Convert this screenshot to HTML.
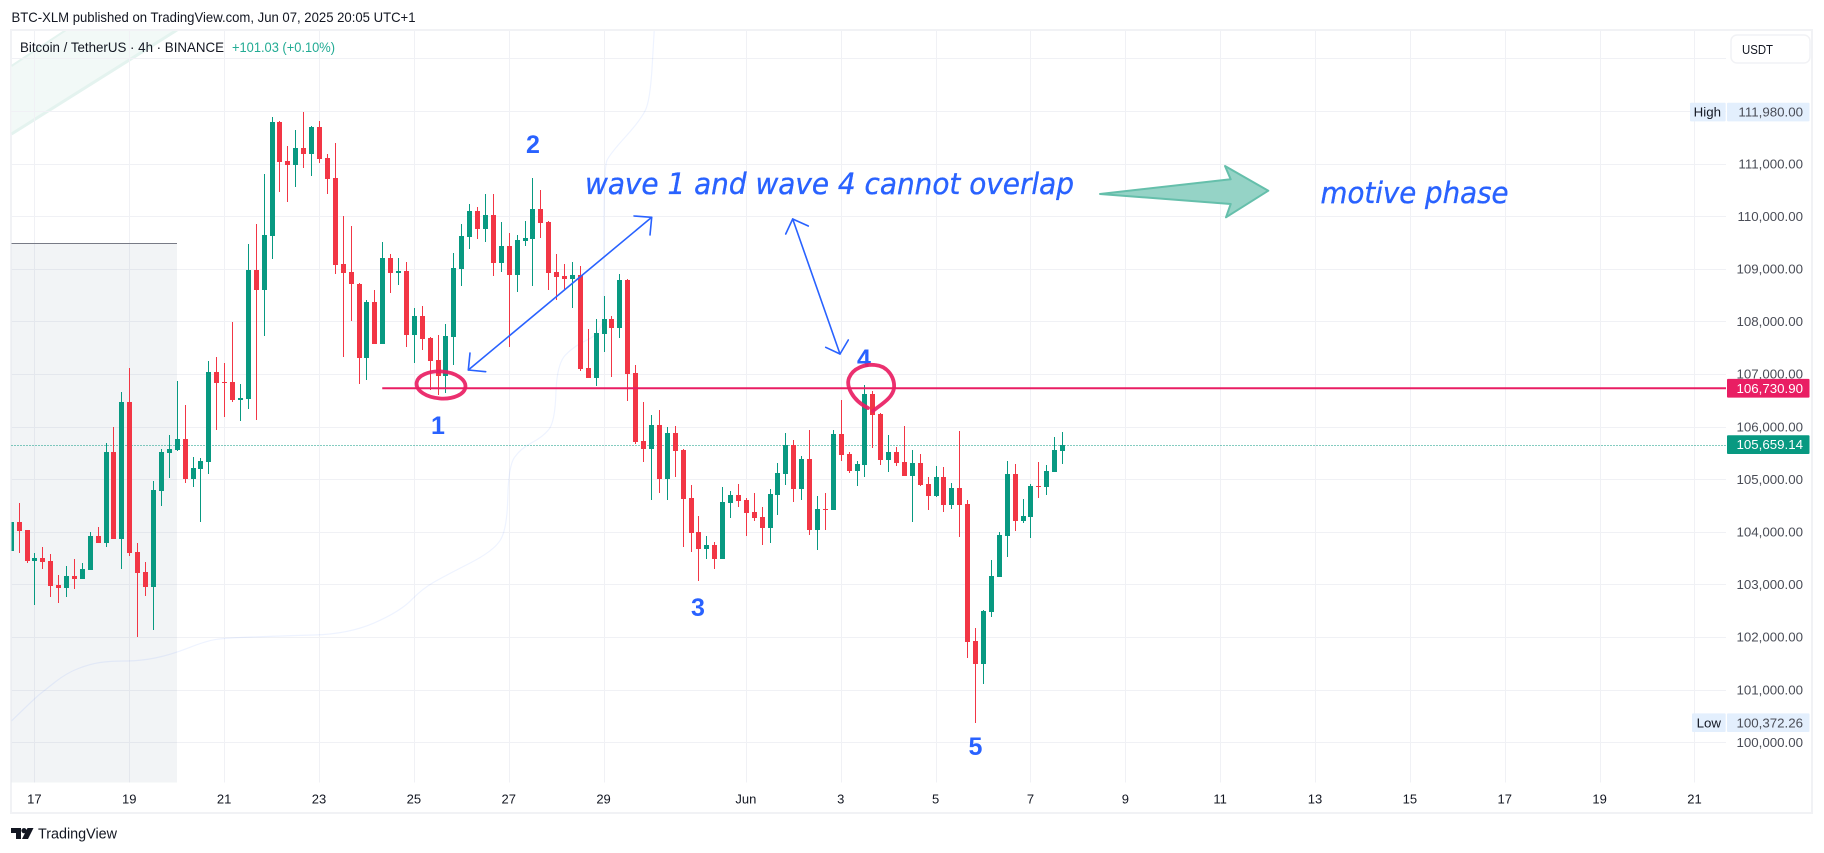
<!DOCTYPE html>
<html lang="en">
<head>
<meta charset="utf-8">
<title>BTC/USDT 4h chart</title>
<style>
html,body{margin:0;padding:0;background:#fff;width:1824px;height:853px;overflow:hidden}
svg{display:block;font-family:"Liberation Sans",sans-serif}
</style>
</head>
<body>
<svg id="chart" xmlns="http://www.w3.org/2000/svg" width="1824" height="853" viewBox="0 0 1824 853">
  <defs>
    <clipPath id="pane-clip"><rect x="11.5" y="31" width="1714.5" height="751.5"/></clipPath>
  </defs>
  <rect x="0" y="0" width="1824" height="853" fill="#ffffff"/>
  <text x="11.5" y="22" font-size="14" fill="#131722" textLength="404" lengthAdjust="spacingAndGlyphs">BTC-XLM published on TradingView.com, Jun 07, 2025 20:05 UTC+1</text>
  <rect x="11" y="30" width="1801" height="783" fill="none" stroke="#f1f2f5" stroke-width="2"/>

  <g id="pane" clip-path="url(#pane-clip)">
    <g>
      <polygon points="11.5,66 66,30 177,30 11.5,134" fill="#f2f9f7"/>
      <line x1="11.5" y1="66" x2="66" y2="30" stroke="#e4f3ef" stroke-width="2"/>
      <line x1="11.5" y1="134" x2="177" y2="30" stroke="#e4f3ef" stroke-width="3"/>
    </g>
    <g id="grid"></g>
    <rect x="11.5" y="243" width="165.5" height="540" fill="#7d91a5" fill-opacity="0.1"/>
    <line x1="11.5" y1="243.5" x2="177" y2="243.5" stroke="#787b86" stroke-width="1"/>
    <path id="envelope" fill="none" stroke="#2962ff" stroke-opacity="0.08" stroke-width="1.2"/>
    <line id="last-price-line" stroke="#089981" stroke-width="1" stroke-dasharray="1 2"/>
    <g id="candles"></g>
    <line id="level-line" stroke="#e91e63" stroke-width="2"/>
  </g>

  <g>
    <polygon points="1100,194 1230.7,179.3 1225,166 1268.3,190.7 1226,217.3 1230.7,204" fill="#95d3c6" stroke="#65bfab" stroke-width="2" stroke-linejoin="round"/>
    <g fill="none" stroke="#2962ff" stroke-width="1.6" stroke-linecap="round" stroke-linejoin="round">
      <line x1="468.3" y1="370" x2="651.7" y2="217.3"/>
      <polyline points="634,216 651.7,217.3 650,235"/>
      <polyline points="470,353 468.3,370 485.7,371.7"/>
    </g>
    <g fill="none" stroke="#2962ff" stroke-width="1.6" stroke-linecap="round" stroke-linejoin="round">
      <line x1="792.7" y1="219" x2="840" y2="354"/>
      <polyline points="785.7,234 792.7,219 808.3,226"/>
      <polyline points="825.7,347.3 840,354 848.3,340"/>
    </g>
    <g fill="#2962ff" font-size="25" font-weight="700" text-anchor="middle">
      <text x="438" y="434">1</text>
      <text x="533" y="153">2</text>
      <text x="698" y="616">3</text>
      <text x="864" y="367">4</text>
      <text x="975.5" y="755">5</text>
    </g>
    <ellipse cx="441" cy="385" rx="24.5" ry="13.5" transform="rotate(4 441 385)" fill="none" stroke="#e91e63" stroke-opacity="0.92" stroke-width="3.8"/>
    <path d="M868,408 C852,400 846,386 849,378 C853,368 865,364 875,365 C888,366 895,378 894,388 C893,398 880,405 873,411" fill="none" stroke="#e91e63" stroke-opacity="0.92" stroke-width="3.8" stroke-linecap="round"/>
    <text x="585" y="194" font-family="'DejaVu Sans',sans-serif" font-style="italic" font-size="29" fill="#2962ff" stroke="#2962ff" stroke-width="0.35" textLength="489" lengthAdjust="spacingAndGlyphs">wave 1 and wave 4 cannot overlap</text>
    <text x="1320.5" y="203" font-family="'DejaVu Sans',sans-serif" font-style="italic" font-size="29" fill="#2962ff" stroke="#2962ff" stroke-width="0.35" textLength="188" lengthAdjust="spacingAndGlyphs">motive phase</text>
  </g>

  <g>
    <text x="20" y="52" font-size="14" fill="#131722" textLength="204" lengthAdjust="spacingAndGlyphs">Bitcoin / TetherUS · 4h · BINANCE</text>
    <text x="232" y="52" font-size="14" fill="#22ab94" textLength="103" lengthAdjust="spacingAndGlyphs">+101.03 (+0.10%)</text>
  </g>

  <g id="price-axis" font-size="13.3" fill="#4a4d57" text-anchor="end"></g>
  <g id="time-axis" font-size="13" fill="#131722" text-anchor="middle"></g>

  <g id="high-marker"></g>
  <g id="low-marker"></g>
  <g id="level-tag"></g>
  <g id="last-tag"></g>

  <g>
    <rect x="1731" y="35" width="79" height="28" rx="6" fill="#ffffff" stroke="#f1f2f5" stroke-width="1.5"/>
    <text x="1742" y="54" font-size="13" fill="#131722" textLength="31" lengthAdjust="spacingAndGlyphs">USDT</text>
  </g>

  <g>
    <polygon points="11,828 21,828 21,839 16,839 16,833 11,833" fill="#131722"/>
    <circle cx="24" cy="830.6" r="2.6" fill="#131722"/>
    <polygon points="27.5,828 33.5,828 28,839 22,839" fill="#131722"/>
    <text x="38" y="838.5" font-size="14.5" fill="#131722" textLength="79" lengthAdjust="spacingAndGlyphs">TradingView</text>
  </g>
</svg>

<script>
const opens = [103640,104190,104040,103450,103500,103450,102990,102930,103160,103100,103280,103920,103790,105520,103860,106470,103620,103240,102950,104780,105500,105560,105770,105000,105200,105330,107040,106850,106850,106510,106530,108980,108600,109620,111790,111050,110970,111300,111180,111700,111110,110730,109090,108940,108710,107310,108370,107570,109210,108920,108960,107740,108100,107690,107270,106960,107710,109000,109610,110100,109760,110020,109110,109430,108880,109530,109570,110140,109890,108940,108860,108810,108880,107120,106930,107760,108050,107880,108790,107020,105730,105570,106030,105000,105880,105560,104640,104000,103680,103750,103480,104550,104700,104610,104380,104280,104070,104700,105100,105650,104820,105390,104040,104430,104410,105860,105480,105160,105270,106620,106240,105370,105520,105330,105060,105310,104910,104680,105040,104510,104830,104530,101930,101490,102480,103140,103920,105100,104210,104280,104870,104850,105140,105540];
const highs = [104190,104550,104040,103600,103710,103580,103180,103350,103480,103410,104000,104090,105690,105990,106660,107120,103790,103430,104970,105570,105840,106870,106410,105420,105400,107250,107320,107210,107990,106810,109470,109850,110800,111890,111810,111340,111640,111980,111720,111810,111180,111390,110000,109810,108730,108410,108600,109510,109280,109210,109130,108260,108290,107700,107740,107950,109300,109850,110230,110180,110420,110420,109890,109680,109640,109910,110730,110500,109910,109280,109090,109130,109050,107860,108050,108480,108100,108900,108810,107170,106470,106220,106320,105990,106010,105570,104890,104300,103920,103810,104850,104780,104910,104640,104740,104470,104820,105310,105880,105750,105440,105940,104680,104740,105940,106510,105520,105350,106790,106680,106260,105840,105610,106010,105560,105480,105040,105250,105230,104930,105920,104610,102170,102510,103470,104000,105350,105290,104630,104910,105330,105270,105800,105900];
const lows = [103640,103600,103410,102610,103290,102760,102650,102760,102910,103100,103280,103790,103710,103860,103290,103540,102000,102780,102130,104490,105020,105540,104930,104850,104190,105100,105940,106180,106470,106110,106340,106130,107720,109190,110460,110270,110560,110920,110770,111010,110420,108900,107320,108010,106810,106890,107570,107570,108540,108690,107520,107210,107460,106700,106600,106640,107170,108670,109380,109570,109510,108860,108940,107520,108560,109430,108670,109590,108600,108410,108620,108260,107060,106930,106770,107420,106940,107690,106490,105670,105330,104610,104740,104610,105040,103710,103620,103070,103480,103290,103480,104260,104470,103920,104210,103750,103790,104320,104890,104570,104610,103940,103660,104040,104410,105350,105120,104870,105040,105590,105270,105140,105250,105060,104190,104870,104420,104660,104380,104430,103900,101600,100370,101110,102380,103140,103520,104020,104170,103880,104640,104700,105140,105290];
const closes = [104190,104020,103450,103500,103430,102970,102930,103160,103100,103290,103920,103790,105520,103860,106470,103600,103220,102950,104800,105520,105570,105770,105000,105210,105350,107040,106830,106830,106510,106550,108980,108600,109640,111790,111030,110970,111300,111180,111700,111090,110710,109070,108920,108710,107310,108370,107570,109210,108920,108960,107740,108100,107670,107250,106960,107720,109020,109620,110100,109760,110020,109110,109430,108880,109550,109590,110140,109870,108920,108850,108810,108880,107100,106930,107780,108050,107880,108790,107000,105710,105570,106030,105000,105880,105540,104630,103980,103680,103750,103480,104570,104700,104590,104360,104260,104070,104720,105120,105650,104820,105390,104040,104430,104410,105860,105460,105160,105290,106620,106220,105370,105520,105310,105060,105310,104890,104680,105040,104510,104830,104510,101910,101490,102500,103160,103940,105100,104210,104300,104870,104850,105160,105560,105660];

const priceTicks = [100000,101000,102000,103000,104000,105000,106000,107000,108000,109000,110000,111000];
const priceTickLabels = ["100,000.00","101,000.00","102,000.00","103,000.00","104,000.00","105,000.00","106,000.00","107,000.00","108,000.00","109,000.00","110,000.00","111,000.00"];
const gridPrices = [100000,101000,102000,103000,104000,105000,106000,107000,108000,109000,110000,111000,112000,113000];
const timeTickDays = [0,2,4,6,8,10,12,15,17,19,21,23,25,27,29,31,33,35];
const timeTickLabels = ["17","19","21","23","25","27","29","Jun","3","5","7","9","11","13","15","17","19","21"];

const highPrice = 111980.00;
const highLabel = "111,980.00";
const lowPrice = 100372.26;
const lowLabel = "100,372.26";
const levelPrice = 106730.90;
const levelLabel = "106,730.90";
const lastPrice = 105659.14;
const lastLabel = "105,659.14";
const levelStartBar = 47;

const envelopeBars = [0.1,3.07,4.34,7.08,10.03,12.56,16.36,20.15,24.8,27.3,33.9,42.8,49.25,52.03,54.9,61.1,62.8,62.97,64.5,67.3,68.85,69.1,71.25,74.9,75,75.05,75.8,79.7,80.9,81.4];
const envelopePrices = [100405,100842,100994,101317,101488,101545,101545,101659,101931,101983,102021,102059,102486,102914,103161,103636,104055,105252,105583,105804,106089,107191,107533,107790,108465,110936,111183,111830,112210,113522];

const NS = "http://www.w3.org/2000/svg";
const PANE_LEFT = 11.5;
const PANE_RIGHT = 1726;
const PANE_BOTTOM = 782.5;
const xOfBar = function (bar) { return 10.7 + bar * 7.905; };
const xOfDay = function (day) { return xOfBar(3 + day * 6); };
const yOfPrice = function (price) { return (114111 - price) / 19.01; };

function make(tag, parent, attrs) {
  const el = document.createElementNS(NS, tag);
  for (const key in attrs) el.setAttribute(key, attrs[key]);
  parent.appendChild(el);
  return el;
}

const grid = document.getElementById("grid");
gridPrices.forEach(function (price) {
  const y = Math.round(yOfPrice(price)) + 0.5;
  const el = make("line", grid, { x1: PANE_LEFT, x2: PANE_RIGHT, y1: y, y2: y, stroke: "#f0f1f5", "stroke-width": 1 });
  
  
});
timeTickDays.forEach(function (day) {
  const x = Math.round(xOfDay(day)) + 0.5;
  const el = make("line", grid, { x1: x, x2: x, y1: 31, y2: PANE_BOTTOM, stroke: "#f0f1f5", "stroke-width": 1 });
  
  
});

const envelopeX = envelopeBars.map(xOfBar);
const envelopeY = envelopePrices.map(yOfPrice);
let envelopeD = "M" + envelopeX[0].toFixed(1) + "," + envelopeY[0].toFixed(1);
for (let i = 1; i < envelopeX.length - 1; i++) {
  const midX = (envelopeX[i] + envelopeX[i + 1]) / 2;
  const midY = (envelopeY[i] + envelopeY[i + 1]) / 2;
  envelopeD += " Q" + envelopeX[i].toFixed(1) + "," + envelopeY[i].toFixed(1) + " " + midX.toFixed(1) + "," + midY.toFixed(1);
}
envelopeD += " L" + envelopeX[envelopeX.length - 1].toFixed(1) + "," + envelopeY[envelopeY.length - 1].toFixed(1);
document.getElementById("envelope").setAttribute("d", envelopeD);

const lastLine = document.getElementById("last-price-line");
lastLine.setAttribute("x1", PANE_LEFT);
lastLine.setAttribute("x2", PANE_RIGHT);
lastLine.setAttribute("y1", Math.round(yOfPrice(lastPrice)) + 0.5);
lastLine.setAttribute("y2", Math.round(yOfPrice(lastPrice)) + 0.5);

const levelLine = document.getElementById("level-line");
levelLine.setAttribute("x1", xOfBar(levelStartBar));
levelLine.setAttribute("x2", PANE_RIGHT);
levelLine.setAttribute("y1", yOfPrice(levelPrice));
levelLine.setAttribute("y2", yOfPrice(levelPrice));

const candleLayer = document.getElementById("candles");
opens.forEach(function (open, i) {
  const close = closes[i];
  const color = close >= open ? "#089981" : "#f23645";
  const cx = Math.round(xOfBar(i));
  const top = Math.round(yOfPrice(Math.max(open, close)));
  const bottom = Math.round(yOfPrice(Math.min(open, close)));
  const wickTop = Math.round(yOfPrice(highs[i]));
  const wickBottom = Math.round(yOfPrice(lows[i]));
  const group = make("g", candleLayer, {});
  
  
  const wick = make("rect", group, { x: cx, y: wickTop, width: 1, height: Math.max(1, wickBottom - wickTop), fill: color });
  
  
  const body = make("rect", group, { x: cx - 2, y: top, width: 5, height: Math.max(1, bottom - top), fill: color });
  
  
});

const priceAxis = document.getElementById("price-axis");
priceTicks.forEach(function (price, i) {
  const el = make("text", priceAxis, { x: 1803, y: yOfPrice(price) + 4.6 });
  
  
  el.textContent = priceTickLabels[i];
});

const timeAxis = document.getElementById("time-axis");
timeTickDays.forEach(function (day, i) {
  const el = make("text", timeAxis, { x: xOfDay(day), y: 803.5 });
  
  
  el.textContent = timeTickLabels[i];
});

function drawExtreme(groupId, price, word, label, wordLeft) {
  const group = document.getElementById(groupId);
  const cy = yOfPrice(price);
  const wordBox = make("rect", group, { x: wordLeft, y: cy - 9.3, width: 1725.7 - wordLeft, height: 18.6, rx: 1, fill: "#e3effd" });
  
  
  const wordText = make("text", group, { x: 1721, y: cy + 4.6, "font-size": 13.3, fill: "#131722", "text-anchor": "end" });
  
  
  wordText.textContent = word;
  const valueBox = make("rect", group, { x: 1727, y: cy - 9.3, width: 82.5, height: 18.6, rx: 1, fill: "#e3effd" });
  
  
  const valueText = make("text", group, { x: 1803, y: cy + 4.6, "font-size": 13.3, fill: "#4a4d57", "text-anchor": "end" });
  
  
  valueText.textContent = label;
}
drawExtreme("high-marker", highPrice, "High", highLabel, 1690);
drawExtreme("low-marker", lowPrice, "Low", lowLabel, 1692);

function drawTag(groupId, price, label, color) {
  const group = document.getElementById(groupId);
  const cy = yOfPrice(price);
  const box = make("rect", group, { x: 1727, y: cy - 9.4, width: 82.5, height: 18.8, rx: 1, fill: color });
  
  
  const text = make("text", group, { x: 1803, y: cy + 4.6, "font-size": 13.3, fill: "#ffffff", "text-anchor": "end" });
  
  
  text.textContent = label;
}
drawTag("level-tag", levelPrice, levelLabel, "#e91e63");
drawTag("last-tag", lastPrice, lastLabel, "#089981");
</script>
</body>
</html>
